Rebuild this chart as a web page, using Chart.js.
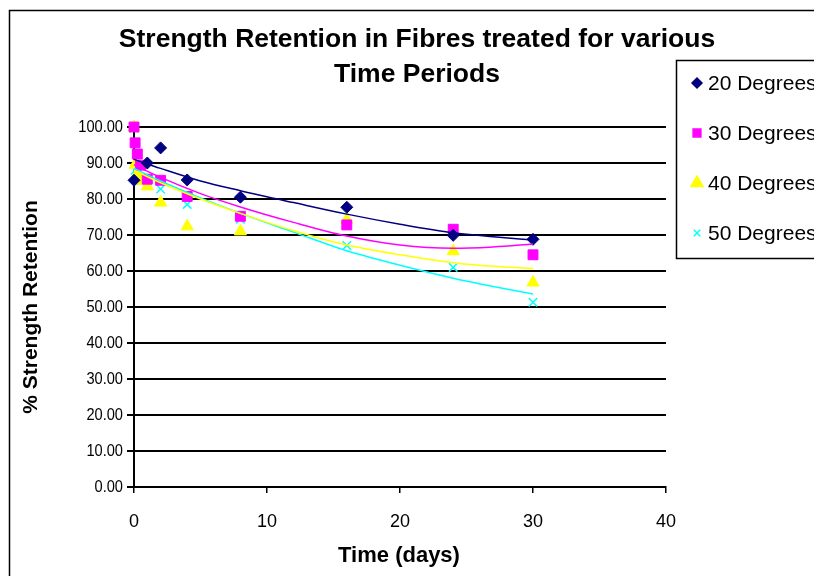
<!DOCTYPE html>
<html>
<head>
<meta charset="utf-8">
<script src="https://cdn.jsdelivr.net/npm/chart.js@4.4.0/dist/chart.umd.min.js"></script>
<style>
  html, body { margin: 0; padding: 0; background: #fff; }
  #wrap { width: 814px; height: 576px; position: relative; }
</style>
</head>
<body>
<div id="wrap"><canvas id="myChart"></canvas></div>
<script>
// measured points (days, % retention)
const days20 = [0, 1, 2, 4, 8, 16, 24, 30];
const ret20 = [85.2, 90.0, 94.2, 85.3, 80.5, 77.7, 69.9, 68.8];
const days30 = [0, 0.083, 0.25, 0.5, 1, 2, 4, 8, 16, 24, 30];
const ret30 = [100, 95.6, 92.5, 89.4, 85.5, 85.2, 80.7, 75.2, 72.8, 71.6, 64.5];
const days40 = [0, 0.083, 0.25, 0.5, 1, 2, 4, 8, 16, 24, 30];
const ret40 = [100, 89.5, 87.0, 85.0, 83.5, 79.0, 72.4, 71.0, 74.2, 65.5, 56.8];
const days50 = [0, 0.083, 0.25, 0.5, 1, 2, 4, 8, 16, 24, 30];
const ret50 = [99.7, 88.0, 87.0, 86.0, 85.0, 82.8, 78.5, 74.4, 67.1, 61.0, 51.3];

// trendlines
const trendDays = [0, 2, 5, 8, 12, 16, 20, 24, 27, 30];
const trend20 = [91.0, 88.5, 85.0, 82.3, 79.0, 75.8, 73.0, 70.6, 69.5, 68.6];
const trend30 = [89.5, 86.0, 81.5, 77.8, 73.5, 69.7, 67.2, 66.3, 66.7, 67.5];
const trend40 = [88.0, 84.5, 80.0, 76.0, 71.2, 67.2, 64.5, 62.3, 61.3, 60.7];
const trend50 = [88.5, 85.0, 80.3, 76.0, 70.8, 65.6, 61.6, 58.0, 55.7, 53.6];

const yTicks = [0, 10, 20, 30, 40, 50, 60, 70, 80, 90, 100];

const seriesNames = ['20 Degrees', '30 Degrees', '40 Degrees', '50 Degrees'];
const seriesColors = ['#000080', '#FF00FF', '#FFFF00', '#00FFFF'];
const seriesMarkers = ['rectRot', 'rect', 'triangle', 'crossRot'];
const markerSizes = [6, 7, 7, 6];
const legendMarkerSizes = [5, 5.5, 7, 4.5];

const titleLines = ['Strength Retention in Fibres treated for various', 'Time Periods'];
const xTitle = 'Time (days)';
const yTitle = '% Strength Retention';

const FONT = '"Liberation Sans", Arial, sans-serif';

function pairs(xs, ys) {
    return xs.map((x, i) => ({ x: x, y: ys[i] }));
}

const pointSets = [pairs(days20, ret20), pairs(days30, ret30), pairs(days40, ret40), pairs(days50, ret50)];
const trendSets = [trend20, trend30, trend40, trend50].map(t => pairs(trendDays, t));

const datasets = [];
// trendlines first so they sit on top of the markers
trendSets.forEach((data, i) => {
    datasets.push({
        type: 'line',
        label: seriesNames[i] + ' trend',
        data: data,
        showLine: true,
        borderColor: seriesColors[i],
        borderWidth: 1.5,
        pointRadius: 0,
        cubicInterpolationMode: 'monotone',
        fill: false,
        clip: false
    });
});
pointSets.forEach((data, i) => {
    datasets.push({
        label: seriesNames[i],
        data: data,
        clip: false,
        pointStyle: seriesMarkers[i],
        pointRadius: markerSizes[i],
        pointBackgroundColor: seriesColors[i],
        pointBorderColor: seriesColors[i],
        pointBorderWidth: seriesMarkers[i] === 'crossRot' ? 1.5 : 1
    });
});

const decor = {
    id: 'decor',
    afterDraw(chart) {
        const c = chart.ctx;
        const ys = chart.scales.y;
        c.save();
        // outer frame
        c.strokeStyle = '#000';
        c.lineWidth = 1.5;
        c.beginPath();
        c.moveTo(9.5, 600);
        c.lineTo(9.5, 10.5);
        c.lineTo(840, 10.5);
        c.stroke();

        c.fillStyle = '#000';
        c.textAlign = 'center';
        c.textBaseline = 'middle';
        c.font = 'bold 26.5px ' + FONT;
        titleLines.forEach((t, i) => c.fillText(t, 417, 40 + i * 35));

        c.font = 'bold 22px ' + FONT;
        c.fillText(xTitle, 399, 556);
        c.save();
        c.translate(31, 307);
        c.rotate(-Math.PI / 2);
        c.font = 'bold 21px ' + FONT;
        c.fillText(yTitle, 0, 0);
        c.restore();

        // y tick labels, slightly narrow like the original
        c.font = '17px ' + FONT;
        c.textAlign = 'right';
        yTicks.forEach(v => {
            c.save();
            c.translate(123, ys.getPixelForValue(v));
            c.scale(0.86, 1);
            c.fillText(v.toFixed(2), 0, 0);
            c.restore();
        });

        // legend box
        c.lineWidth = 1.5;
        c.strokeStyle = '#000';
        c.strokeRect(676.5, 60.5, 200, 198);
        c.textAlign = 'left';
        c.font = '21px ' + FONT;
        seriesNames.forEach((name, i) => {
            const y = 83 + i * 50;
            c.fillStyle = seriesColors[i];
            c.strokeStyle = seriesColors[i];
            c.lineWidth = 1.5;
            Chart.helpers.drawPoint(c, {
                pointStyle: seriesMarkers[i],
                radius: legendMarkerSizes[i],
                rotation: 0,
                borderWidth: 1
            }, 697, y);
            c.fillStyle = '#000';
            c.fillText(name, 708, y + 1);
        });
        c.restore();
    }
};

new Chart(document.getElementById('myChart'), {
    type: 'scatter',
    data: { datasets: datasets },
    options: {
        responsive: true,
        maintainAspectRatio: false,
        animation: false,
        layout: { padding: { top: 127, right: 148, bottom: 0, left: 0 } },
        plugins: {
            legend: { display: false },
            title: { display: false },
            tooltip: { enabled: false }
        },
        scales: {
            x: {
                type: 'linear',
                min: 0,
                max: 40,
                afterFit: s => { s.height = 89; },
                ticks: {
                    stepSize: 10,
                    color: '#000',
                    padding: 18,
                    font: { family: FONT, size: 18 }
                },
                grid: {
                    drawOnChartArea: false,
                    drawTicks: true,
                    tickLength: 6,
                    color: '#000',
                    lineWidth: 1.5
                },
                border: { display: true, color: '#000', width: 2 }
            },
            y: {
                type: 'linear',
                min: 0,
                max: 100,
                afterFit: s => { s.width = 134; },
                ticks: {
                    stepSize: 10,
                    display: false
                },
                grid: {
                    color: '#000',
                    lineWidth: 2,
                    drawTicks: true,
                    tickLength: 7
                },
                border: { display: true, color: '#000', width: 2 }
            }
        }
    },
    plugins: [decor]
});
</script>
</body>
</html>
